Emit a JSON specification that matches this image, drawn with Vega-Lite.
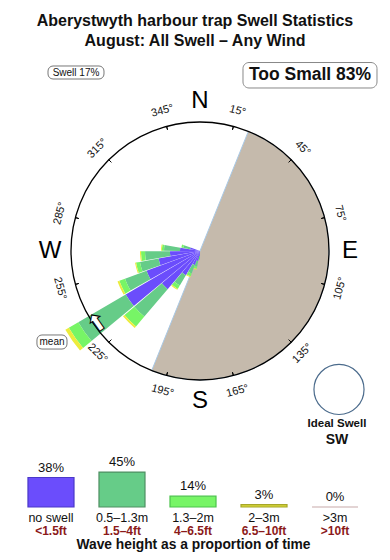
{
  "$schema": "https://vega.github.io/schema/vega-lite/v6.json",
  "padding": 0,
  "config": {"view": {"stroke": null}, "font": "Liberation Sans"},
  "bounds": "flush",
  "spacing": 0,
  "vconcat": [
    {
      "width": 390, "height": 62,
      "data": {"values": [{}]},
      "mark": {"type": "text", "text": ["Aberystwyth harbour trap Swell Statistics", "August: All Swell – Any Wind"], "fontSize": 16, "fontWeight": "bold", "lineHeight": 20, "baseline": "middle", "dy": -10, "color": "#111"}
    },
    {
      "width": 390, "height": 400,
      "data": {"values": [{}]},
      "encoding": {
        "x": {"datum": 0, "type": "quantitative", "scale": {"domain": [-155.04, 147.29], "nice": false, "zero": false}, "axis": null},
        "y": {"datum": 0, "type": "quantitative", "scale": {"domain": [-163.57, 146.51], "nice": false, "zero": false}, "axis": null}
      },
      "resolve": {"scale": {"angle": "independent"}},
      "layer": [
        {
          "mark": {"type": "arc", "fill": "#c5baac", "stroke": "#a9c9e6", "strokeWidth": 1},
          "encoding": {
            "theta": {"datum": 22, "type": "quantitative", "scale": {"domain": [0, 360], "range": [0, 6.283185307179586]}},
            "theta2": {"datum": 202},
            "radius": {"datum": 100, "type": "quantitative", "scale": {"type": "linear", "domain": [0, 100], "range": [0, 129], "zero": true, "nice": false}}
          }
        },
        {
          "data": {"values": [
            {"from": 180.3, "to": 189.7, "band": "no swell", "lo": 0, "hi": 3.9},
            {"from": 180.3, "to": 189.7, "band": "0.5–1.3m", "lo": 3.9, "hi": 6.2},
            {"from": 180.3, "to": 189.7, "band": "1.3–2m", "lo": 6.2, "hi": 7.0},
            {"from": 190.3, "to": 199.7, "band": "no swell", "lo": 0, "hi": 7.8},
            {"from": 190.3, "to": 199.7, "band": "0.5–1.3m", "lo": 7.8, "hi": 12.4},
            {"from": 190.3, "to": 199.7, "band": "1.3–2m", "lo": 12.4, "hi": 14.0},
            {"from": 190.3, "to": 199.7, "band": "2–3m", "lo": 14.0, "hi": 14.7},
            {"from": 200.3, "to": 209.7, "band": "no swell", "lo": 0, "hi": 11.6},
            {"from": 200.3, "to": 209.7, "band": "0.5–1.3m", "lo": 11.6, "hi": 18.6},
            {"from": 200.3, "to": 209.7, "band": "1.3–2m", "lo": 18.6, "hi": 20.9},
            {"from": 200.3, "to": 209.7, "band": "2–3m", "lo": 20.9, "hi": 21.7},
            {"from": 210.3, "to": 219.7, "band": "no swell", "lo": 0, "hi": 21.7},
            {"from": 210.3, "to": 219.7, "band": "0.5–1.3m", "lo": 21.7, "hi": 31.0},
            {"from": 210.3, "to": 219.7, "band": "1.3–2m", "lo": 31.0, "hi": 34.1},
            {"from": 210.3, "to": 219.7, "band": "2–3m", "lo": 34.1, "hi": 34.9},
            {"from": 220.3, "to": 229.7, "band": "no swell", "lo": 0, "hi": 38.8},
            {"from": 220.3, "to": 229.7, "band": "0.5–1.3m", "lo": 38.8, "hi": 66.7},
            {"from": 220.3, "to": 229.7, "band": "1.3–2m", "lo": 66.7, "hi": 76.7},
            {"from": 220.3, "to": 229.7, "band": "2–3m", "lo": 76.7, "hi": 78.3},
            {"from": 230.3, "to": 239.7, "band": "no swell", "lo": 0, "hi": 66.7},
            {"from": 230.3, "to": 239.7, "band": "0.5–1.3m", "lo": 66.7, "hi": 109.3},
            {"from": 230.3, "to": 239.7, "band": "1.3–2m", "lo": 109.3, "hi": 117.8},
            {"from": 230.3, "to": 239.7, "band": "2–3m", "lo": 117.8, "hi": 120.9},
            {"from": 240.3, "to": 249.7, "band": "no swell", "lo": 0, "hi": 44.2},
            {"from": 240.3, "to": 249.7, "band": "0.5–1.3m", "lo": 44.2, "hi": 62.0},
            {"from": 240.3, "to": 249.7, "band": "1.3–2m", "lo": 62.0, "hi": 66.7},
            {"from": 240.3, "to": 249.7, "band": "2–3m", "lo": 66.7, "hi": 68.2},
            {"from": 250.3, "to": 259.7, "band": "no swell", "lo": 0, "hi": 32.6},
            {"from": 250.3, "to": 259.7, "band": "0.5–1.3m", "lo": 32.6, "hi": 47.3},
            {"from": 250.3, "to": 259.7, "band": "1.3–2m", "lo": 47.3, "hi": 50.4},
            {"from": 250.3, "to": 259.7, "band": "2–3m", "lo": 50.4, "hi": 51.2},
            {"from": 260.3, "to": 269.7, "band": "no swell", "lo": 0, "hi": 23.3},
            {"from": 260.3, "to": 269.7, "band": "0.5–1.3m", "lo": 23.3, "hi": 42.6},
            {"from": 260.3, "to": 269.7, "band": "1.3–2m", "lo": 42.6, "hi": 45.7},
            {"from": 260.3, "to": 269.7, "band": "2–3m", "lo": 45.7, "hi": 46.5},
            {"from": 270.3, "to": 279.7, "band": "no swell", "lo": 0, "hi": 15.5},
            {"from": 270.3, "to": 279.7, "band": "0.5–1.3m", "lo": 15.5, "hi": 27.9},
            {"from": 270.3, "to": 279.7, "band": "1.3–2m", "lo": 27.9, "hi": 29.5},
            {"from": 270.3, "to": 279.7, "band": "2–3m", "lo": 29.5, "hi": 30.2},
            {"from": 280.3, "to": 289.7, "band": "no swell", "lo": 0, "hi": 7.8},
            {"from": 280.3, "to": 289.7, "band": "0.5–1.3m", "lo": 7.8, "hi": 13.2},
            {"from": 280.3, "to": 289.7, "band": "1.3–2m", "lo": 13.2, "hi": 14.7}
          ]},
          "mark": {"type": "arc"},
          "encoding": {
            "theta": {"field": "from", "type": "quantitative", "stack": null, "scale": {"domain": [0, 360], "range": [0, 6.283185307179586]}},
            "theta2": {"field": "to"},
            "radius": {"field": "hi", "type": "quantitative", "stack": null, "scale": {"type": "linear", "domain": [0, 100], "range": [0, 129], "zero": true, "nice": false}},
            "radius2": {"field": "lo"},
            "color": {"field": "band", "type": "nominal", "scale": {"domain": ["no swell", "0.5–1.3m", "1.3–2m", "2–3m"], "range": ["#6b4dfc", "#66cc88", "#77f566", "#ecec3c"]}, "legend": null}
          }
        },
        {
          "mark": {"type": "arc", "fill": "white", "fillOpacity": 0, "stroke": "#000", "strokeWidth": 1.3},
          "encoding": {
            "theta": {"datum": 0, "type": "quantitative", "scale": {"domain": [0, 360], "range": [0, 6.283185307179586]}},
            "theta2": {"datum": 360},
            "radius": {"datum": 100, "type": "quantitative", "scale": {"type": "linear", "domain": [0, 100], "range": [0, 129], "zero": true, "nice": false}}
          }
        },
        {
          "data": {"values": [{"deg": 15}, {"deg": 45}, {"deg": 75}, {"deg": 105}, {"deg": 135}, {"deg": 165}, {"deg": 195}, {"deg": 225}, {"deg": 255}, {"deg": 285}, {"deg": 315}, {"deg": 345}]},
          "mark": {"type": "arc", "fill": "white", "fillOpacity": 0, "stroke": "#000", "strokeWidth": 1},
          "encoding": {
            "theta": {"field": "deg", "type": "quantitative", "stack": null, "scale": {"domain": [0, 360], "range": [0, 6.283185307179586]}},
            "theta2": {"field": "deg"},
            "radius": {"datum": 100, "type": "quantitative", "scale": {"type": "linear", "domain": [0, 100], "range": [0, 129], "zero": true, "nice": false}},
            "radius2": {"datum": 97.3}
          }
        },
        {
          "data": {"values": [{"deg": 285, "label": "285°"}, {"deg": 315, "label": "315°"}, {"deg": 345, "label": "345°"}, {"deg": 15, "label": "15°"}, {"deg": 45, "label": "45°"}, {"deg": 75, "label": "75°"}]},
          "mark": {"type": "text", "fontSize": 11, "color": "#111"},
          "encoding": {
            "theta": {"field": "deg", "type": "quantitative", "scale": {"domain": [0, 360], "range": [0, 6.283185307179586]}},
            "radius": {"datum": 112.4, "type": "quantitative", "scale": {"type": "linear", "domain": [0, 100], "range": [0, 129], "zero": true, "nice": false}},
            "angle": {"field": "deg", "type": "quantitative", "scale": {"domain": [0, 360], "range": [0, 360]}, "legend": null},
            "text": {"field": "label"}
          }
        },
        {
          "data": {"values": [{"deg": 105, "label": "105°"}, {"deg": 135, "label": "135°"}, {"deg": 165, "label": "165°"}, {"deg": 195, "label": "195°"}, {"deg": 225, "label": "225°"}, {"deg": 255, "label": "255°"}]},
          "mark": {"type": "text", "fontSize": 11, "color": "#111"},
          "encoding": {
            "theta": {"field": "deg", "type": "quantitative", "scale": {"domain": [0, 360], "range": [0, 6.283185307179586]}},
            "radius": {"datum": 112.4, "type": "quantitative", "scale": {"type": "linear", "domain": [0, 100], "range": [0, 129], "zero": true, "nice": false}},
            "angle": {"field": "deg", "type": "quantitative", "scale": {"domain": [90, 270], "range": [-90, 90]}, "legend": null},
            "text": {"field": "label"}
          }
        },
        {
          "data": {"values": [{"deg": 0, "label": "N"}, {"deg": 90, "label": "E"}, {"deg": 180, "label": "S"}, {"deg": 270, "label": "W"}]},
          "mark": {"type": "text", "fontSize": 24, "color": "#000"},
          "encoding": {
            "theta": {"field": "deg", "type": "quantitative", "scale": {"domain": [0, 360], "range": [0, 6.283185307179586]}},
            "radius": {"datum": 116.3, "type": "quantitative", "scale": {"type": "linear", "domain": [0, 100], "range": [0, 129], "zero": true, "nice": false}},
            "text": {"field": "label"}
          }
        },
        {
          "mark": {"type": "text", "text": "⬆", "font": "DejaVu Sans", "fontSize": 24, "angle": 325, "fill": "white", "stroke": "#000", "strokeWidth": 1},
          "encoding": {
            "theta": {"datum": 234.4, "type": "quantitative", "scale": {"domain": [0, 360], "range": [0, 6.283185307179586]}},
            "radius": {"datum": 97.2, "type": "quantitative", "scale": {"type": "linear", "domain": [0, 100], "range": [0, 129], "zero": true, "nice": false}}
          }
        },
        {
          "mark": {"type": "rect", "cornerRadius": 5, "fill": "white", "stroke": "#777", "strokeWidth": 1},
          "encoding": {
            "x": {"datum": -126.4, "type": "quantitative", "scale": {"domain": [-155.04, 147.29], "nice": false, "zero": false}, "axis": null},
            "x2": {"datum": -103.1},
            "y": {"datum": -65.1, "type": "quantitative", "scale": {"domain": [-163.57, 146.51], "nice": false, "zero": false}, "axis": null},
            "y2": {"datum": -76.0}
          }
        },
        {
          "mark": {"type": "text", "text": "mean", "fontSize": 10, "color": "#111"},
          "encoding": {
            "x": {"datum": -114.7, "type": "quantitative", "scale": {"domain": [-155.04, 147.29], "nice": false, "zero": false}, "axis": null},
            "y": {"datum": -70.5, "type": "quantitative", "scale": {"domain": [-163.57, 146.51], "nice": false, "zero": false}, "axis": null}
          }
        },
        {
          "mark": {"type": "rect", "cornerRadius": 5, "fill": "white", "stroke": "#777", "strokeWidth": 1},
          "encoding": {
            "x": {"datum": -117.83, "type": "quantitative", "scale": {"domain": [-155.04, 147.29], "nice": false, "zero": false}, "axis": null},
            "x2": {"datum": -74.42},
            "y": {"datum": 143.41, "type": "quantitative", "scale": {"domain": [-163.57, 146.51], "nice": false, "zero": false}, "axis": null},
            "y2": {"datum": 133.33}
          }
        },
        {
          "mark": {"type": "text", "text": "Swell 17%", "fontSize": 10, "color": "#111"},
          "encoding": {
            "x": {"datum": -96.12, "type": "quantitative", "scale": {"domain": [-155.04, 147.29], "nice": false, "zero": false}, "axis": null},
            "y": {"datum": 138.37, "type": "quantitative", "scale": {"domain": [-163.57, 146.51], "nice": false, "zero": false}, "axis": null}
          }
        },
        {
          "mark": {"type": "rect", "cornerRadius": 6, "fill": "white", "stroke": "#888", "strokeWidth": 1},
          "encoding": {
            "x": {"datum": 33.33, "type": "quantitative", "scale": {"domain": [-155.04, 147.29], "nice": false, "zero": false}, "axis": null},
            "x2": {"datum": 137.21},
            "y": {"datum": 146.1, "type": "quantitative", "scale": {"domain": [-163.57, 146.51], "nice": false, "zero": false}, "axis": null},
            "y2": {"datum": 126.36}
          }
        },
        {
          "mark": {"type": "text", "text": "Too Small 83%", "fontSize": 17.5, "fontWeight": "bold", "color": "#111"},
          "encoding": {
            "x": {"datum": 85.27, "type": "quantitative", "scale": {"domain": [-155.04, 147.29], "nice": false, "zero": false}, "axis": null},
            "y": {"datum": 136.43, "type": "quantitative", "scale": {"domain": [-163.57, 146.51], "nice": false, "zero": false}, "axis": null}
          }
        },
        {
          "mark": {"type": "arc", "fill": "white", "fillOpacity": 0, "stroke": "#4b6b8c", "strokeWidth": 1.2},
          "encoding": {
            "x": {"datum": 107.75, "type": "quantitative", "scale": {"domain": [-155.04, 147.29], "nice": false, "zero": false}, "axis": null},
            "y": {"datum": -107.36, "type": "quantitative", "scale": {"domain": [-163.57, 146.51], "nice": false, "zero": false}, "axis": null},
            "theta": {"datum": 0, "type": "quantitative", "scale": {"domain": [0, 360], "range": [0, 6.283185307179586]}},
            "theta2": {"datum": 360},
            "radius": {"datum": 19.4, "type": "quantitative", "scale": {"type": "linear", "domain": [0, 100], "range": [0, 129], "zero": true, "nice": false}}
          }
        },
        {
          "mark": {"type": "text", "text": "Ideal Swell", "fontSize": 11.5, "fontWeight": "bold", "color": "#111"},
          "encoding": {
            "x": {"datum": 106.2, "type": "quantitative", "scale": {"domain": [-155.04, 147.29], "nice": false, "zero": false}, "axis": null},
            "y": {"datum": -134.1, "type": "quantitative", "scale": {"domain": [-163.57, 146.51], "nice": false, "zero": false}, "axis": null}
          }
        },
        {
          "mark": {"type": "text", "text": "SW", "fontSize": 14, "fontWeight": "bold", "color": "#111"},
          "encoding": {
            "x": {"datum": 106.2, "type": "quantitative", "scale": {"domain": [-155.04, 147.29], "nice": false, "zero": false}, "axis": null},
            "y": {"datum": -146.5, "type": "quantitative", "scale": {"domain": [-163.57, 146.51], "nice": false, "zero": false}, "axis": null}
          }
        }
      ]
    },
    {
      "width": 386, "height": 45,
      "data": {"values": [
        {"h": "no swell", "ft": "<1.5ft", "share": 0.38},
        {"h": "0.5–1.3m", "ft": "1.5–4ft", "share": 0.45},
        {"h": "1.3–2m", "ft": "4–6.5ft", "share": 0.14},
        {"h": "2–3m", "ft": "6.5–10ft", "share": 0.03},
        {"h": ">3m", "ft": ">10ft", "share": 0.0}
      ]},
      "encoding": {
        "x": {"field": "h", "type": "nominal", "sort": null, "scale": {"paddingInner": 0.352, "paddingOuter": 0.394},
          "axis": {"title": "Wave height as a proportion of time", "titleFontSize": 13.8, "titleFontWeight": "bold", "titleColor": "#111", "titlePadding": 14,
            "labelFontSize": 12.5, "labelColor": "#111", "labelPadding": 4, "labelAngle": 0, "domain": false, "ticks": false, "tickSize": 0, "labelOverlap": false}}
      },
      "layer": [
        {
          "mark": {"type": "bar", "strokeWidth": 1.2},
          "encoding": {
            "y": {"field": "share", "type": "quantitative", "scale": {"domain": [0, 0.58], "nice": false}, "axis": null},
            "fill": {"field": "h", "type": "nominal", "sort": null, "scale": {"domain": ["no swell", "0.5–1.3m", "1.3–2m", "2–3m", ">3m"], "range": ["#6b4dfc", "#66cc88", "#77f566", "#d8d83a", "#e0b0b0"]}, "legend": null},
            "stroke": {"field": "h", "type": "nominal", "sort": null, "scale": {"domain": ["no swell", "0.5–1.3m", "1.3–2m", "2–3m", ">3m"], "range": ["#4a38c8", "#4f8f63", "#4cc34c", "#a6a629", "#c8aaaa"]}, "legend": null}
          }
        },
        {
          "mark": {"type": "text", "baseline": "bottom", "dy": -3, "fontSize": 13, "color": "#111"},
          "encoding": {
            "y": {"field": "share", "type": "quantitative", "scale": {"domain": [0, 0.58], "nice": false}, "axis": null},
            "text": {"field": "share", "format": ".0%"}
          }
        },
        {
          "mark": {"type": "text", "baseline": "middle", "dy": 24, "fontSize": 12, "fontWeight": "bold", "color": "#8b1a1a"},
          "encoding": {
            "y": {"datum": 0, "type": "quantitative", "scale": {"domain": [0, 0.58], "nice": false}, "axis": null},
            "text": {"field": "ft"}
          }
        }
      ]
    }
  ]
}
